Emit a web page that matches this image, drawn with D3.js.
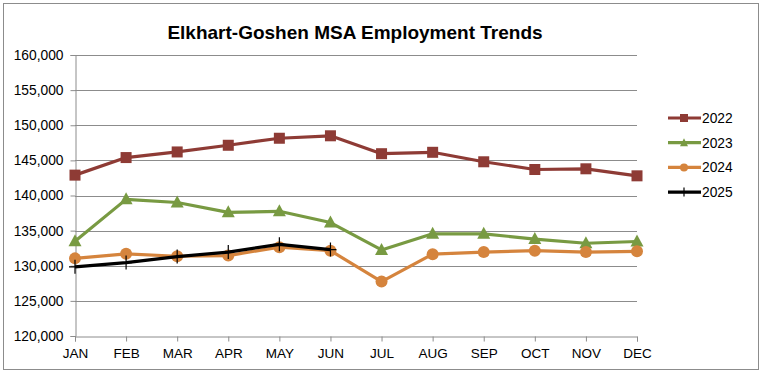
<!DOCTYPE html>
<html>
<head>
<meta charset="utf-8">
<script src="https://cdn.jsdelivr.net/npm/d3@7"></script>
<style>
  body { margin: 0; background: #fff; }
  text { font-family: Arial, "Liberation Sans", sans-serif; }
</style>
</head>
<body>
<script>
// chart data
var months = ["JAN","FEB","MAR","APR","MAY","JUN","JUL","AUG","SEP","OCT","NOV","DEC"];
var y2022 = [142900, 145400, 146200, 147150, 148150, 148500, 145950, 146150, 144800, 143700, 143800, 142800];
var y2023 = [133500, 139450, 139000, 137600, 137750, 136150, 132250, 134550, 134550, 133800, 133200, 133450];
var y2024 = [131050, 131700, 131350, 131450, 132650, 132150, 127750, 131650, 131950, 132150, 131950, 132050];
var y2025 = [129850, 130450, 131300, 131950, 133050, 132300];
var yTicks = [120000, 125000, 130000, 135000, 140000, 145000, 150000, 155000, 160000];

var series = [
  {name: "2022", values: y2022, color: "#8E3B35", marker: "square"},
  {name: "2023", values: y2023, color: "#789A42", marker: "triangle"},
  {name: "2024", values: y2024, color: "#D5843D", marker: "circle"},
  {name: "2025", values: y2025, color: "#000000", marker: "plus"}
];

var W = 762, H = 374;
var svg = d3.select("body").append("svg").attr("width", W).attr("height", H);

svg.append("rect").attr("x", 3.5).attr("y", 3.5).attr("width", 755).attr("height", 366)
   .attr("fill", "#fff").attr("stroke", "#8c8c8c").attr("stroke-width", 1);

svg.append("text").attr("x", 355).attr("y", 39).attr("text-anchor", "middle")
   .attr("font-size", "19px").attr("font-weight", "bold").text("Elkhart-Goshen MSA Employment Trends");

var x = d3.scalePoint().domain(months).range([75, 637]);
var y = d3.scaleLinear().domain([120000, 160000]).range([336, 55]);

// gridlines
svg.append("g").selectAll("line").data(yTicks.slice(1)).enter().append("line")
   .attr("x1", 75).attr("x2", 637)
   .attr("y1", function(d) { return Math.round(y(d)) + 0.5; })
   .attr("y2", function(d) { return Math.round(y(d)) + 0.5; })
   .attr("stroke", "#8c8c8c").attr("stroke-width", 1);

var yAxis = svg.append("g").attr("transform", "translate(75.5,0)")
   .call(d3.axisLeft(y).tickValues(yTicks).tickSize(5).tickPadding(7).tickFormat(d3.format(",")));
var xAxis = svg.append("g").attr("transform", "translate(0,336.5)")
   .call(d3.axisBottom(x).tickSize(5).tickPadding(7));

[yAxis, xAxis].forEach(function(a) {
  a.select(".domain").attr("stroke", "#8c8c8c");
  a.selectAll(".tick line").attr("stroke", "#8c8c8c");
  a.selectAll("text").attr("font-size", "13.8px").attr("fill", "#000")
   .attr("font-family", "Arial, 'Liberation Sans', sans-serif");
});
xAxis.selectAll("text").attr("font-size", "13.5px");

function drawMarker(g, type, color) {
  if (type === "square") {
    g.append("rect").attr("x", -5.5).attr("y", -5.5).attr("width", 11).attr("height", 11).attr("fill", color);
  } else if (type === "triangle") {
    g.append("path").attr("d", "M0,-7L6.5,5L-6.5,5Z").attr("fill", color);
  } else if (type === "circle") {
    g.append("circle").attr("r", 6).attr("fill", color);
  } else {
    g.append("path").attr("d", "M-6,0H6M0,-7V7").attr("stroke", color).attr("stroke-width", 1.2);
  }
}

var line = d3.line().x(function(d, i) { return x(months[i]); }).y(function(d) { return y(d); });

series.forEach(function(s) {
  svg.append("path").datum(s.values).attr("d", line)
     .attr("fill", "none").attr("stroke", s.color).attr("stroke-width", 3.2)
     .attr("stroke-linejoin", "round");
  s.values.forEach(function(v, i) {
    var g = svg.append("g").attr("transform", "translate(" + x(months[i]) + "," + y(v) + ")");
    drawMarker(g, s.marker, s.color);
  });
});

// legend
series.forEach(function(s, i) {
  var ly = 118 + i * 24.7;
  svg.append("line").attr("x1", 668).attr("x2", 701).attr("y1", ly).attr("y2", ly)
     .attr("stroke", s.color).attr("stroke-width", 3.2);
  var g = svg.append("g").attr("transform", "translate(684," + ly + ")");
  if (s.marker === "square") {
    g.append("rect").attr("x", -4).attr("y", -4).attr("width", 8).attr("height", 8).attr("fill", s.color);
  } else if (s.marker === "triangle") {
    g.append("path").attr("d", "M0,-4.5L4,3.5L-4,3.5Z").attr("fill", s.color);
  } else if (s.marker === "circle") {
    g.append("circle").attr("r", 4).attr("fill", s.color);
  } else {
    g.append("path").attr("d", "M0,-4.5V4.5").attr("stroke", s.color).attr("stroke-width", 1.2);
  }
  svg.append("text").attr("x", 702).attr("y", ly + 5).attr("font-size", "13.8px").text(s.name);
});
</script>
</body>
</html>
